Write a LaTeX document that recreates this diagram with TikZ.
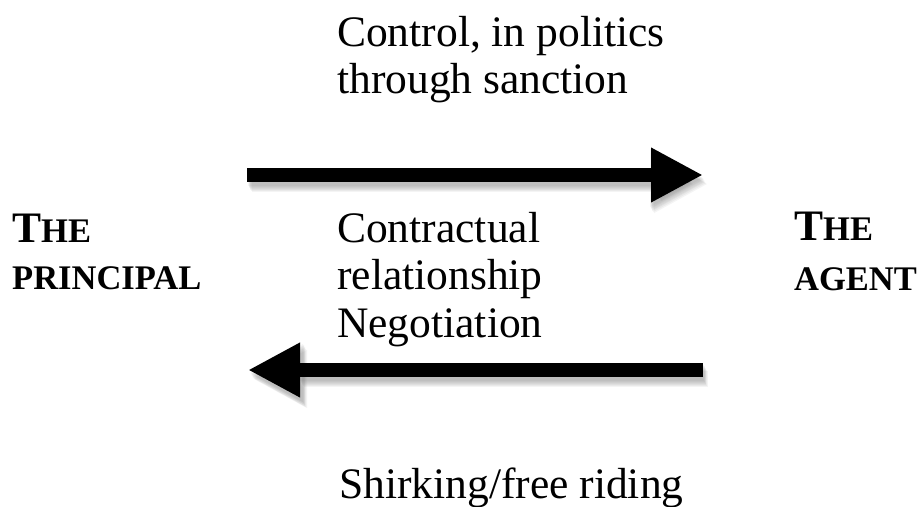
\documentclass[tikz,border=0pt]{standalone}
\usepackage{fontspec}
\setmainfont{Liberation Serif}
\usetikzlibrary{arrows.meta}
\tikzset{
  lbl/.style={inner sep=0pt, anchor=base west, font=\fontsize{43.5}{47.5}\selectfont},
  who/.style={inner sep=0pt, anchor=base west, font=\bfseries\fontsize{43.5}{47.5}\selectfont},
  bigarrow/.style={line width=14pt, -{Triangle[length=52pt,width=51pt]}},
  shadowarrow/.style={line width=16pt, -{Triangle[length=54pt,width=54pt]}, draw=black!55, opacity=0.08},
}
\newcommand{\fakesc}[2]{{\fontsize{43.5}{47.5}\selectfont #1}{\fontsize{34.5}{36}\selectfont #2}}
\begin{document}
\begin{tikzpicture}[x=1pt,y=-1pt]
  \useasboundingbox[fill=white] (0,0) rectangle (917,506);
  % coordinates of arrow ends
  \coordinate (a1s) at (247,175);
  \coordinate (a1e) at (703,175);
  \coordinate (a2s) at (703,370);
  \coordinate (a2e) at (248,370);
  % soft shadows
  \foreach \dx/\dy in {1/3,2/4,3/6,4/8,2/5,3/7,5/9} {
    \draw[shadowarrow, transform canvas={shift={(\dx pt,-\dy pt)}}] (a1s) -- (a1e);
    \draw[shadowarrow, transform canvas={shift={(\dx pt,-\dy pt)}}] (a2s) -- (a2e);
  }
  % arrows
  \draw[bigarrow] (a1s) -- (a1e);
  \draw[bigarrow] (a2s) -- (a2e);
  % texts
  \node[lbl] (control) at (337,46) {\begin{tabular}[t]{@{}l@{}}Control, in politics\\through sanction\end{tabular}};
  \node[lbl] (contract) at (337,242) {\begin{tabular}[t]{@{}l@{}}Contractual\\relationship\\Negotiation\end{tabular}};
  \node[lbl] (shirk) at (339,498) {Shirking/free riding};
  \node[who] (principal) at (12,242) {\begin{tabular}[t]{@{}l@{}}\fakesc{T}{HE}\\\fakesc{}{PRINCIPAL}\end{tabular}};
  \node[who] (agent) at (794,240) {\begin{tabular}[t]{@{}l@{}}\fakesc{T}{HE}\\[3pt]\fakesc{}{AGENT}\end{tabular}};
\end{tikzpicture}
\end{document}
